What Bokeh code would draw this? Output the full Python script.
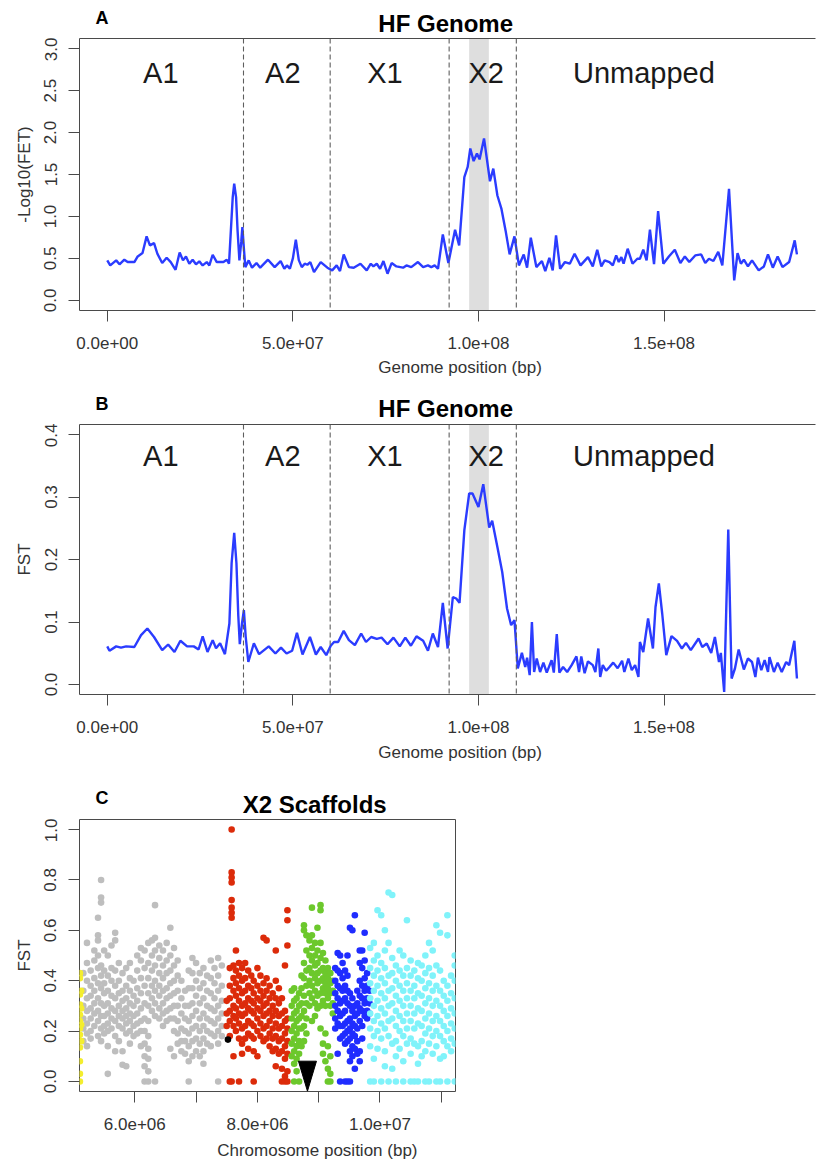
import math
from bokeh.plotting import figure
from bokeh.layouts import column
from bokeh.models import (FixedTicker, PrintfTickFormatter, Label, Span,
                          BoxAnnotation, LinearAxis, Range1d)
from bokeh.embed import file_html
from bokeh.resources import INLINE

# ------------------------------------------------------------------ data
MB = 1e6

# Panel A: -log10(FET) along the genome (position in Mb, value)
fet_pos_mb = [0.0, 0.8, 2.4, 3.3, 4.6, 5.5, 7.3, 8.2, 9.5, 10.6, 11.5, 12.6, 13.5, 14.8, 16.0, 17.1,
              18.4, 19.5, 20.4, 21.2, 22.1, 23.0, 23.9, 24.8, 25.7, 26.8, 27.5, 28.4, 29.5, 31.3, 32.2,
              32.8, 33.3, 33.8, 34.2, 34.7, 35.1, 35.6, 36.1, 36.4, 36.8, 37.2, 38.1, 39.0, 40.2, 41.2,
              43.3, 45.1, 46.7, 47.7, 48.4, 49.2, 50.0, 50.8, 51.6, 52.4, 53.2, 53.9, 54.7, 55.7, 57.5,
              59.3, 60.6, 61.8, 62.7, 63.7, 65.1, 66.4, 68.2, 69.9, 71.0, 71.7, 72.6, 73.5, 74.4, 75.5,
              76.6, 77.9, 79.7, 80.6, 81.9, 83.7, 85.1, 86.4, 87.3, 88.2, 89.1, 90.4, 91.9, 93.7, 94.8,
              96.2, 97.1, 97.8, 98.7, 99.6, 100.3, 101.5, 103.1, 104.0, 105.1, 106.2, 107.3, 108.4,
              109.7, 110.9, 112.2, 113.1, 114.1, 115.6, 117.1, 118.0, 119.1, 120.0, 120.9, 122.0, 123.3,
              124.6, 125.9, 127.5, 129.5, 130.8, 132.0, 133.1, 134.0, 135.3, 136.2, 137.1, 137.8, 138.5,
              139.1, 140.2, 141.5, 142.8, 143.5, 144.4, 145.3, 146.2, 147.3, 148.4, 149.8, 151.3, 152.9,
              154.4, 155.6, 156.8, 158.4, 160.0, 161.1, 162.1, 163.3, 164.6, 165.7, 167.5, 168.9, 169.8,
              170.7, 171.5, 172.6, 173.7, 175.5, 176.9, 178.0, 179.3, 180.6, 181.9, 183.7, 185.2, 185.8]
fet_value = [0.477, 0.417, 0.477, 0.43, 0.485, 0.457, 0.457, 0.524, 0.564, 0.763, 0.656, 0.683, 0.556,
             0.445, 0.508, 0.457, 0.365, 0.572, 0.477, 0.524, 0.437, 0.485, 0.43, 0.465, 0.417, 0.457,
             0.417, 0.544, 0.457, 0.457, 0.485, 0.437, 0.834, 1.23, 1.39, 1.23, 0.834, 0.477, 0.70,
             0.874, 0.62, 0.397, 0.477, 0.39, 0.445, 0.39, 0.485, 0.397, 0.469, 0.377, 0.417, 0.377,
             0.50, 0.723, 0.48, 0.397, 0.437, 0.425, 0.457, 0.338, 0.457, 0.39, 0.358, 0.417, 0.35,
             0.548, 0.397, 0.39, 0.437, 0.358, 0.437, 0.405, 0.437, 0.377, 0.469, 0.318, 0.445, 0.405,
             0.39, 0.417, 0.397, 0.457, 0.397, 0.417, 0.397, 0.417, 0.377, 0.787, 0.445, 0.842, 0.656,
             1.47, 1.59, 1.81, 1.66, 1.75, 1.68, 1.93, 1.42, 1.57, 1.25, 1.09, 0.834, 0.548, 0.763,
             0.417, 0.548, 0.39, 0.747, 0.397, 0.469, 0.35, 0.508, 0.358, 0.775, 0.377, 0.457, 0.437,
             0.556, 0.417, 0.516, 0.405, 0.604, 0.405, 0.477, 0.457, 0.417, 0.536, 0.457, 0.516, 0.437,
             0.616, 0.437, 0.496, 0.496, 0.604, 0.477, 0.842, 0.433, 1.065, 0.437, 0.524, 0.604, 0.445,
             0.524, 0.457, 0.536, 0.548, 0.445, 0.496, 0.469, 0.58, 0.417, 1.33, 0.238, 0.564, 0.437,
             0.485, 0.405, 0.477, 0.358, 0.405, 0.548, 0.39, 0.524, 0.397, 0.457, 0.715, 0.548]

# Panel B: FST along the genome (position in Mb, value)
fst_pos_mb = [0.0, 0.6, 2.4, 3.7, 5.1, 7.3, 9.1, 10.8, 12.6, 14.8, 16.4, 18.1, 19.7, 21.5, 23.3, 24.6,
              25.7, 27.0, 28.4, 29.3, 30.4, 31.7, 32.9, 33.5, 34.2, 34.8, 35.3, 35.7, 36.3, 36.8, 37.3,
              38.0, 39.5, 40.9, 43.5, 45.3, 46.8, 48.3, 49.8, 51.1, 52.6, 54.6, 56.2, 57.5, 59.0, 60.2,
              61.1, 62.2, 63.7, 65.1, 66.7, 68.4, 69.7, 71.1, 72.6, 73.9, 75.5, 77.1, 78.8, 80.3, 81.8,
              83.3, 85.1, 86.4, 87.7, 89.1, 90.4, 91.7, 93.1, 94.0, 94.9, 96.2, 97.5, 98.4, 100.0, 101.3,
              102.9, 103.7, 105.1, 106.4, 107.7, 108.8, 109.7, 110.6, 111.7, 112.6, 113.1, 113.8, 114.4,
              115.0, 115.7, 116.6, 117.5, 118.4, 119.7, 120.3, 121.1, 121.8, 122.8, 123.9, 125.1, 126.4,
              127.1, 127.7, 128.6, 129.5, 130.8, 131.5, 132.3, 132.8, 133.5, 134.4, 135.3, 136.3, 137.5,
              138.7, 139.3, 140.4, 141.3, 142.2, 143.1, 143.5, 144.4, 145.7, 147.0, 147.7, 148.6, 149.5,
              150.6, 152.0, 153.5, 154.8, 155.9, 157.2, 159.3, 160.3, 161.5, 162.7, 163.7, 164.8, 165.3,
              166.2, 167.3, 168.2, 169.1, 170.1, 171.5, 172.6, 173.7, 174.6, 175.3, 176.2, 177.1, 178.0,
              178.4, 179.6, 180.6, 181.7, 182.9, 183.7, 185.1, 185.8]
fst_value = [0.061, 0.054, 0.061, 0.059, 0.061, 0.060, 0.079, 0.0896, 0.076, 0.055, 0.064, 0.052, 0.070,
             0.061, 0.061, 0.056, 0.077, 0.052, 0.071, 0.058, 0.066, 0.0485, 0.0976, 0.194, 0.2426,
             0.194, 0.11, 0.0645, 0.0976, 0.119, 0.076, 0.036, 0.066, 0.0485, 0.061, 0.0496, 0.059,
             0.0496, 0.054, 0.0826, 0.048, 0.076, 0.048, 0.060, 0.047, 0.062, 0.068, 0.068, 0.0858,
             0.071, 0.063, 0.0816, 0.068, 0.076, 0.073, 0.075, 0.0645, 0.075, 0.061, 0.075, 0.062,
             0.077, 0.070, 0.054, 0.0816, 0.060, 0.1306, 0.0576, 0.140, 0.1376, 0.1306, 0.247, 0.3056,
             0.3056, 0.284, 0.3205, 0.251, 0.262, 0.220, 0.180, 0.1216, 0.0949, 0.103, 0.0256, 0.0506,
             0.028, 0.043, 0.015, 0.100, 0.020, 0.0416, 0.020, 0.035, 0.019, 0.039, 0.019, 0.0805,
             0.019, 0.028, 0.020, 0.031, 0.045, 0.020, 0.045, 0.018, 0.037, 0.031, 0.020, 0.0576, 0.012,
             0.031, 0.022, 0.028, 0.035, 0.026, 0.038, 0.020, 0.0416, 0.0229, 0.031, 0.012, 0.068,
             0.052, 0.1056, 0.0576, 0.124, 0.1616, 0.1136, 0.047, 0.0773, 0.0698, 0.0576, 0.0666,
             0.055, 0.0736, 0.060, 0.0656, 0.0506, 0.076, 0.036, 0.0506, -0.012, 0.248, 0.0096, 0.0256,
             0.056, 0.024, 0.0416, 0.036, 0.012, 0.043, 0.0229, 0.039, 0.020, 0.044, 0.020, 0.035,
             0.020, 0.036, 0.031, 0.070, 0.0096]

region_names = ["A1", "A2", "X1", "X2", "Unmapped"]
boundary_mb = [36.7, 60.05, 92.1, 110.2]
x2_window_mb = [97.5, 102.8]
genome_ticks = [0, 50_000_000, 100_000_000, 150_000_000]
genome_tick_labels = ["0.0e+00", "5.0e+07", "1.0e+08", "1.5e+08"]
fet_ticks = [0.0, 0.5, 1.0, 1.5, 2.0, 2.5, 3.0]
fst_ticks = [0.0, 0.1, 0.2, 0.3, 0.4]

# Panel C: FST per SNP on X2 scaffolds, read column by column (position in Mb, FST values)
yellow_cols = [(5.105, [0.43, 0.41, 0.345, 0.305, 0.265, 0.24, 0.21, 0.185, 0.135, 0.08, 0.03, 0.0]),
               (5.125, [0.36, 0.29, 0.225, 0.16])]
gray_cols = [
    (5.16, [0.43, 0.36, 0.30, 0.25, 0.21, 0.16]),
    (5.22, [0.55, 0.47, 0.40, 0.33, 0.28, 0.23, 0.19, 0.14]),
    (5.28, [0.44, 0.38, 0.34, 0.29, 0.25, 0.20, 0.17]),
    (5.34, [0.52, 0.48, 0.41, 0.36, 0.31, 0.27, 0.22]),
    (5.40, [0.65, 0.58, 0.56, 0.50, 0.45, 0.39, 0.33, 0.28, 0.24, 0.18]),
    (5.45, [0.80, 0.73, 0.71, 0.46, 0.42, 0.37, 0.31, 0.26, 0.21, 0.16]),
    (5.50, [0.52, 0.44, 0.39, 0.35, 0.30, 0.26, 0.22, 0.19]),
    (5.56, [0.50, 0.42, 0.36, 0.31, 0.27, 0.23, 0.20, 0.14, 0.03]),
    (5.62, [0.54, 0.45, 0.40, 0.34, 0.29, 0.25, 0.21]),
    (5.68, [0.59, 0.56, 0.44, 0.38, 0.33, 0.28, 0.24, 0.18, 0.12]),
    (5.74, [0.47, 0.40, 0.35, 0.30, 0.26, 0.22, 0.16]),
    (5.80, [0.43, 0.36, 0.32, 0.28, 0.25, 0.21, 0.12, 0.066]),
    (5.86, [0.45, 0.38, 0.33, 0.29, 0.26, 0.23, 0.19, 0.06]),
    (5.92, [0.47, 0.41, 0.36, 0.31, 0.27, 0.24, 0.20, 0.15]),
    (5.98, [0.40, 0.34, 0.30, 0.26, 0.22, 0.18]),
    (6.04, [0.50, 0.44, 0.37, 0.32, 0.27, 0.23, 0.19]),
    (6.10, [0.53, 0.48, 0.41, 0.35, 0.29, 0.24, 0.20, 0.14]),
    (6.16, [0.52, 0.45, 0.38, 0.31, 0.25, 0.20, 0.15, 0.10, 0.06, 0.0]),
    (6.22, [0.55, 0.47, 0.41, 0.35, 0.30, 0.24, 0.18, 0.13, 0.09, 0.04, 0.0]),
    (6.28, [0.56, 0.50, 0.44, 0.38, 0.33, 0.28]),
    (6.33, [0.70, 0.57, 0.52, 0.46, 0.40, 0.36, 0.31, 0.26, 0.0]),
    (6.40, [0.54, 0.49, 0.43, 0.38, 0.34, 0.29, 0.25]),
    (6.46, [0.52, 0.46, 0.41, 0.36, 0.31, 0.27, 0.22]),
    (6.52, [0.55, 0.48, 0.43, 0.37, 0.33, 0.28, 0.24]),
    (6.58, [0.61, 0.50, 0.44, 0.39, 0.34, 0.29, 0.25, 0.13]),
    (6.64, [0.53, 0.46, 0.40, 0.35, 0.30, 0.25, 0.20, 0.10]),
    (6.70, [0.48, 0.42, 0.36, 0.30, 0.24, 0.19, 0.15]),
    (6.76, [0.40, 0.33, 0.27, 0.21, 0.16, 0.12]),
    (6.82, [0.36, 0.30, 0.25, 0.20, 0.16, 0.11]),
    (6.88, [0.44, 0.37, 0.30, 0.24, 0.19, 0.14, 0.08, 0.0]),
    (6.94, [0.49, 0.43, 0.37, 0.31, 0.26, 0.21, 0.16, 0.10]),
    (7.00, [0.47, 0.40, 0.34, 0.28, 0.22, 0.17, 0.12]),
    (7.06, [0.43, 0.37, 0.31, 0.25, 0.20, 0.15, 0.10]),
    (7.12, [0.45, 0.39, 0.33, 0.27, 0.22, 0.17, 0.12, 0.07]),
    (7.18, [0.42, 0.36, 0.30, 0.25, 0.20, 0.15]),
    (7.24, [0.48, 0.41, 0.35, 0.29, 0.24, 0.19, 0.14]),
    (7.30, [0.45, 0.39, 0.33, 0.28, 0.23, 0.18]),
    (7.36, [0.49, 0.42, 0.36, 0.30, 0.25, 0.20, 0.15, 0.0]),
    (7.42, [0.46, 0.38, 0.32, 0.27, 0.22, 0.18]),
]
red_cols = [
    (7.50, [0.32, 0.27, 0.22]),
    (7.55, [0.45, 0.38, 0.33, 0.28, 0.24, 0.18, 0.0]),
    (7.58, [1.00, 0.83, 0.81, 0.79, 0.72, 0.69, 0.67, 0.65, 0.0]),
    (7.61, [0.46, 0.41, 0.36, 0.30, 0.26, 0.22, 0.10]),
    (7.65, [0.52, 0.44, 0.39, 0.34, 0.29, 0.25, 0.20]),
    (7.70, [0.47, 0.42, 0.37, 0.32, 0.27, 0.23, 0.17, 0.0]),
    (7.75, [0.45, 0.40, 0.35, 0.30, 0.26, 0.21, 0.15, 0.11]),
    (7.80, [0.47, 0.41, 0.36, 0.31, 0.27, 0.22, 0.17]),
    (7.85, [0.44, 0.38, 0.33, 0.29, 0.24, 0.19, 0.13]),
    (7.90, [0.42, 0.37, 0.32, 0.28, 0.23, 0.18]),
    (7.94, [0.40, 0.35, 0.31, 0.27, 0.22, 0.17, 0.12, 0.0]),
    (8.00, [0.45, 0.38, 0.33, 0.29, 0.25, 0.20, 0.10]),
    (8.05, [0.42, 0.36, 0.32, 0.28, 0.23, 0.18]),
    (8.10, [0.57, 0.39, 0.34, 0.30, 0.26, 0.21, 0.16]),
    (8.15, [0.56, 0.41, 0.36, 0.31, 0.27, 0.22, 0.17]),
    (8.20, [0.38, 0.33, 0.28, 0.24, 0.19, 0.14]),
    (8.25, [0.35, 0.30, 0.26, 0.21, 0.17, 0.12]),
    (8.30, [0.52, 0.40, 0.33, 0.28, 0.23, 0.18, 0.13, 0.06]),
    (8.35, [0.37, 0.31, 0.26, 0.21, 0.16, 0.11]),
    (8.40, [0.33, 0.27, 0.22, 0.17, 0.12, 0.05, 0.0]),
    (8.45, [0.46, 0.28, 0.24, 0.19, 0.14, 0.09, 0.02, 0.0]),
    (8.49, [0.68, 0.64, 0.54, 0.25, 0.21, 0.16, 0.11, 0.04, 0.0]),
]
green_cols = [
    (8.56, [0.36, 0.30, 0.25, 0.20, 0.15, 0.10]),
    (8.60, [0.37, 0.32, 0.27, 0.22, 0.17, 0.12, 0.07, 0.0]),
    (8.64, [0.33, 0.28, 0.24, 0.19, 0.14, 0.09, 0.04]),
    (8.68, [0.35, 0.30, 0.25, 0.21, 0.16, 0.11, 0.0]),
    (8.72, [0.42, 0.37, 0.31, 0.26, 0.21, 0.14]),
    (8.76, [0.62, 0.60, 0.47, 0.41, 0.34, 0.28, 0.22, 0.16]),
    (8.80, [0.58, 0.52, 0.44, 0.38, 0.31, 0.25, 0.19]),
    (8.85, [0.56, 0.50, 0.45, 0.40, 0.35, 0.30]),
    (8.89, [0.69, 0.58, 0.53, 0.48, 0.43, 0.38, 0.33, 0.24]),
    (8.94, [0.55, 0.50, 0.46, 0.41, 0.36, 0.31, 0.26]),
    (8.98, [0.61, 0.52, 0.47, 0.43, 0.39, 0.34, 0.29]),
    (9.03, [0.70, 0.68, 0.55, 0.49, 0.44, 0.40, 0.35, 0.30, 0.21]),
    (9.07, [0.51, 0.45, 0.41, 0.37, 0.32, 0.15, 0.11]),
    (9.11, [0.48, 0.43, 0.39, 0.35, 0.30, 0.19, 0.08]),
    (9.15, [0.45, 0.41, 0.37, 0.33, 0.14, 0.05, 0.0]),
    (9.19, [0.43, 0.39, 0.35, 0.30, 0.10, 0.03, 0.0]),
    (9.23, [0.40, 0.36, 0.31, 0.27]),
]
blue_cols = [
    (9.27, [0.45, 0.40, 0.35, 0.30, 0.25, 0.21]),
    (9.31, [0.51, 0.44, 0.38, 0.33, 0.28, 0.23, 0.11]),
    (9.35, [0.50, 0.43, 0.37, 0.31, 0.26, 0.22, 0.17, 0.0]),
    (9.39, [0.47, 0.41, 0.36, 0.32, 0.27, 0.22, 0.18]),
    (9.43, [0.44, 0.38, 0.33, 0.28, 0.23, 0.19, 0.15, 0.0]),
    (9.47, [0.50, 0.42, 0.36, 0.31, 0.24, 0.20, 0.16, 0.0]),
    (9.51, [0.61, 0.35, 0.30, 0.25, 0.21, 0.17, 0.12, 0.08, 0.0]),
    (9.55, [0.60, 0.33, 0.28, 0.23, 0.19, 0.14, 0.10]),
    (9.59, [0.66, 0.30, 0.26, 0.22, 0.18, 0.13, 0.05]),
    (9.63, [0.36, 0.31, 0.27, 0.21, 0.16, 0.11]),
    (9.67, [0.52, 0.47, 0.40, 0.34, 0.29, 0.24, 0.12, 0.08]),
    (9.71, [0.52, 0.45, 0.38, 0.33, 0.28, 0.22, 0.17]),
    (9.75, [0.59, 0.48, 0.41, 0.36, 0.31, 0.26]),
    (9.79, [0.43, 0.38, 0.33, 0.28, 0.25]),
    (9.83, [0.36, 0.31, 0.27]),
]
cyan_cols = [
    (9.84, [0.53, 0.45, 0.39, 0.33, 0.27, 0.21, 0.14, 0.0]),
    (9.90, [0.55, 0.48, 0.42, 0.36, 0.30, 0.24, 0.18, 0.09, 0.0]),
    (9.96, [0.68, 0.50, 0.44, 0.38, 0.32, 0.26, 0.20, 0.13]),
    (10.02, [0.66, 0.47, 0.41, 0.35, 0.29, 0.23, 0.17, 0.0]),
    (10.08, [0.60, 0.52, 0.45, 0.39, 0.33, 0.27, 0.21, 0.12, 0.06]),
    (10.14, [0.75, 0.55, 0.42, 0.36, 0.30, 0.24, 0.18, 0.0]),
    (10.20, [0.74, 0.49, 0.43, 0.37, 0.31, 0.25, 0.15, 0.05]),
    (10.26, [0.46, 0.40, 0.34, 0.28, 0.22, 0.16, 0.10, 0.0]),
    (10.32, [0.52, 0.44, 0.38, 0.32, 0.26, 0.20, 0.13]),
    (10.38, [0.50, 0.42, 0.36, 0.30, 0.24, 0.18, 0.08, 0.0]),
    (10.44, [0.64, 0.45, 0.39, 0.33, 0.27, 0.21, 0.15]),
    (10.50, [0.48, 0.42, 0.36, 0.30, 0.24, 0.17, 0.11, 0.0]),
    (10.56, [0.44, 0.38, 0.33, 0.27, 0.21, 0.15, 0.0]),
    (10.62, [0.47, 0.41, 0.35, 0.29, 0.23, 0.14, 0.07, 0.0]),
    (10.68, [0.46, 0.40, 0.34, 0.28, 0.22, 0.16, 0.10]),
    (10.74, [0.50, 0.43, 0.37, 0.31, 0.25, 0.19, 0.12, 0.0]),
    (10.80, [0.55, 0.45, 0.39, 0.33, 0.27, 0.21, 0.15, 0.0]),
    (10.86, [0.52, 0.42, 0.36, 0.30, 0.24, 0.18, 0.11]),
    (10.92, [0.62, 0.46, 0.38, 0.32, 0.26, 0.20, 0.14, 0.0]),
    (10.98, [0.59, 0.44, 0.36, 0.30, 0.24, 0.18, 0.09, 0.0]),
    (11.04, [0.40, 0.34, 0.28, 0.22, 0.16, 0.10]),
    (11.10, [0.66, 0.58, 0.38, 0.32, 0.26, 0.20, 0.14, 0.0]),
    (11.16, [0.42, 0.35, 0.29, 0.23, 0.17, 0.12]),
    (11.22, [0.50, 0.46, 0.40, 0.33, 0.27, 0.21, 0.15, 0.0]),
]
black_snp_mb = [7.52]
black_snp_fst = [0.166]
marked_position_mb = 8.817        # position of the black arrowhead
chrom_ticks = [6_000_000, 7_000_000, 8_000_000, 9_000_000, 10_000_000, 11_000_000]
chrom_tick_labels = ["6.0e+06", "", "8.0e+06", "", "1.0e+07", ""]
scaf_ticks = [0.0, 0.2, 0.4, 0.6, 0.8, 1.0]

# ------------------------------------------------------------------ style
FONT = "Liberation Sans"
INK = "#333333"
FRAME = "#4a4a4a"
BLUE_LINE = "#2b3cff"
COLORS = {"yellow": "#f4ee2e", "gray": "#bebebe", "red": "#dc2b0a", "green": "#6cc82c",
          "blue": "#1f2cff", "cyan": "#80f3fa"}
PAGE_W = 820


def no_grid(p):
    for g in p.xgrid + p.ygrid:
        g.visible = False


def text_fig(top, height, items, width=PAGE_W):
    """a strip whose frame is the whole canvas; items are placed in page pixels"""
    p = figure(width=width, height=height, output_backend="svg", toolbar_location=None,
               x_range=Range1d(0, width), y_range=Range1d(height, 0),
               min_border_left=0, min_border_right=0, min_border_top=0, min_border_bottom=0,
               x_axis_location=None, y_axis_location=None)
    p.outline_line_color = None
    p.background_fill_color = "white"
    p.border_fill_color = "white"
    no_grid(p)
    for px, py, text, size, bold in items:
        p.add_layout(Label(x=px, y=py - top, text=text, text_font=FONT,
                           text_font_size=f"{size}px",
                           text_font_style="bold" if bold else "normal",
                           text_color="#000000" if bold else INK,
                           text_align="center", text_baseline="middle"))
    return p


def make_fig(width, height, left, right, top, bottom, xr, yr, outline):
    p = figure(width=width, height=height, output_backend="svg", toolbar_location=None,
               x_range=Range1d(*xr), y_range=Range1d(*yr),
               min_border_left=left, min_border_right=right, min_border_top=top,
               min_border_bottom=bottom, x_axis_location=None, y_axis_location=None)
    p.background_fill_color = "white"
    p.border_fill_color = "white"
    p.outline_line_color = FRAME if outline else None
    p.outline_line_width = 1
    no_grid(p)
    return p


def style_axis(ax, ticks, line=True, vertical=False):
    ax.ticker = FixedTicker(ticks=ticks)
    ax.major_tick_out = 11
    ax.major_tick_in = 0
    ax.major_tick_line_color = FRAME
    ax.minor_tick_line_color = None
    ax.axis_line_color = FRAME if line else None
    ax.major_label_text_font = FONT
    ax.major_label_text_font_size = "17px"
    ax.major_label_text_color = INK
    if vertical:
        ax.major_label_orientation = "vertical"
        ax.major_label_standoff = 12
    else:
        ax.major_label_standoff = 15


def add_axes(p, xticks, xlabels, yticks, yfmt, ylabel, frame_axes):
    xb = LinearAxis()
    style_axis(xb, xticks, line=frame_axes)
    xb.major_label_overrides = {t: s for t, s in zip(xticks, xlabels)}
    p.add_layout(xb, "below")
    yl = LinearAxis(axis_label=ylabel)
    style_axis(yl, yticks, line=frame_axes, vertical=True)
    yl.formatter = PrintfTickFormatter(format=yfmt)
    yl.axis_label_text_font = FONT
    yl.axis_label_text_font_size = "17px"
    yl.axis_label_text_font_style = "normal"
    yl.axis_label_text_color = INK
    yl.axis_label_standoff = 8
    p.add_layout(yl, "left")
    if frame_axes:
        top = LinearAxis(ticker=FixedTicker(ticks=[]), axis_line_color=FRAME,
                         major_tick_line_color=None, minor_tick_line_color=None,
                         major_tick_out=0, major_tick_in=0, major_label_standoff=0,
                         axis_label_standoff=0, major_label_text_font_size="0px")
        p.add_layout(top, "above")


def genome_panel(pos_mb, vals, yr, yticks, frame_h, ylabel, region_y_data):
    xr = (-7.48 * MB, 190.8 * MB)
    height = 1 + frame_h + 46
    p = make_fig(PAGE_W, height, 78, 0, 1, 46, xr, yr, outline=False)
    add_axes(p, genome_ticks, genome_tick_labels, yticks, "%.1f", ylabel, frame_axes=True)
    p.add_layout(BoxAnnotation(left=x2_window_mb[0] * MB, right=x2_window_mb[1] * MB,
                               fill_color="#dedede", fill_alpha=1.0, line_color=None,
                               level="underlay"))
    for b in boundary_mb:
        p.add_layout(Span(location=b * MB, dimension="height", line_color="#5e5e5e",
                          line_width=1.1, line_dash="5 3"))
    p.line([v * MB for v in pos_mb], vals, line_color=BLUE_LINE, line_width=2.4)
    px_per_bp = 742 / (xr[1] - xr[0])
    for name, cx in zip(region_names, [160, 283, 386, 488, 647]):
        p.add_layout(Label(x=xr[0] + (cx - 78) / px_per_bp, y=region_y_data, text=name,
                           text_font=FONT, text_font_size="29px", text_color="#1a1a1a",
                           text_align="center", text_baseline="alphabetic"))
    return p


# strips of text between the plots (page y in pixels)
headA = text_fig(0, 37, [(25, 17.5, "A", 18, True), (408, 22.5, "HF Genome", 24, True)])
pA = genome_panel(fet_pos_mb, fet_value, (-0.12, 3.12), fet_ticks, 272, "-Log10(FET)", 2.705)
gapAB = text_fig(356, 67, [(424, 367, "Genome position (bp)", 17, False),
                           (25, 403.5, "B", 18, True), (408, 408, "HF Genome", 24, True)])
pB = genome_panel(fst_pos_mb, fst_value, (-0.016, 0.416), fst_ticks, 270, "FST", 0.366)
gapBC = text_fig(740, 78, [(424, 752, "Genome position (bp)", 17, False),
                           (25, 797.5, "C", 18, True), (262, 804, "X2 Scaffolds", 24, True)])

# ------------------------------------------------------------------ panel C
xrC = (5.098 * MB, 11.232 * MB)
yrC = (-0.04, 1.04)
pC = make_fig(460, 319, 79, 5, 1, 46, xrC, yrC, outline=True)
add_axes(pC, chrom_ticks, chrom_tick_labels, scaf_ticks, "%.1f", "FST", frame_axes=False)


def expand(cols):
    xs, ys = [], []
    for xm, vals in cols:
        for v in vals:
            xs.append(xm * MB)
            ys.append(v)
    return xs, ys


for cols, cname in [(gray_cols, "gray"), (red_cols, "red"), (green_cols, "green"),
                    (blue_cols, "blue"), (cyan_cols, "cyan"), (yellow_cols, "yellow")]:
    xs, ys = expand(cols)
    pC.scatter(xs, ys, size=6.6, fill_color=COLORS[cname], line_color=None, marker="circle")
pC.scatter([v * MB for v in black_snp_mb], black_snp_fst, size=6.6, fill_color="black",
           line_color=None)

# arrowhead: 18 px wide, 30 px tall, tip at the bottom of the frame
px_per_bp_c = 376 / (xrC[1] - xrC[0])
px_per_unit_c = 272 / (yrC[1] - yrC[0])
ax_c = marked_position_mb * MB
half_w = 9 / px_per_bp_c
tip_y = yrC[0] + 0.3 / px_per_unit_c
top_y = tip_y + 30 / px_per_unit_c
pC.patch([ax_c - half_w, ax_c + half_w, ax_c], [top_y, top_y, tip_y],
         fill_color="black", line_color="black")

footC = text_fig(1137, 24, [(265, 1150, "Chromosome position (bp)", 17, False)])

layout = column(headA, pA, gapAB, pB, gapBC, pC, footC, spacing=0)
open("out.html", "w").write(file_html(layout, INLINE))
